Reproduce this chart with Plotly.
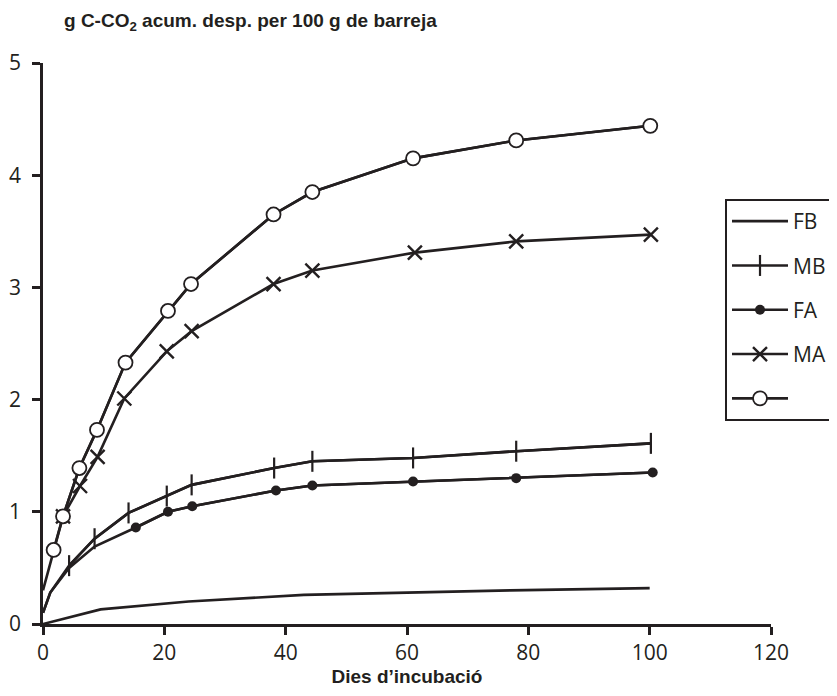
import plotly.graph_objects as go

INK = "#231f20"

# ---- data ----
fb_days = [0, 9.5, 24, 43, 60, 77, 100]
fb_vals = [0.0, 0.13, 0.20, 0.26, 0.28, 0.30, 0.32]

mb_days = [0, 1.2, 4.3, 8.5, 14.1, 20.4, 24.5, 38.1, 44.4, 61, 78, 100.2]
mb_vals = [0.10, 0.28, 0.52, 0.76, 0.99, 1.14, 1.24, 1.39, 1.45, 1.48, 1.54, 1.61]
mb_first_marker = 2

fa_days = [0, 1.2, 4.3, 8.5, 15.3, 20.6, 24.6, 38.4, 44.4, 61, 78, 100.5]
fa_vals = [0.10, 0.28, 0.50, 0.69, 0.86, 1.00, 1.05, 1.19, 1.235, 1.27, 1.30, 1.35]
fa_first_marker = 4

ma_days = [3.3, 6.1, 9.0, 13.4, 20.4, 24.5, 38.0, 44.4, 61.3, 78, 100.2]
ma_vals = [0.96, 1.23, 1.49, 2.01, 2.43, 2.61, 3.03, 3.15, 3.31, 3.41, 3.47]

oc_days = [0, 1.75, 3.3, 6.0, 8.9, 13.6, 20.6, 24.4, 38.0, 44.4, 61, 78, 100.1]
oc_vals = [0.30, 0.66, 0.96, 1.39, 1.73, 2.33, 2.79, 3.03, 3.65, 3.85, 4.15, 4.31, 4.44]
oc_first_marker = 1

names = ["FB", "MB", "FA", "MA", " "]
x_ticks = [0, 20, 40, 60, 80, 100, 120]
y_ticks = [0, 1, 2, 3, 4, 5]

LW = 2.6
fig = go.Figure()

# FB plain line
fig.add_trace(go.Scatter(x=fb_days, y=fb_vals, mode="lines", name=names[0],
                         line=dict(color=INK, width=LW), legendgroup="g1"))

# MB: line + vertical tick markers
fig.add_trace(go.Scatter(x=mb_days, y=mb_vals, mode="lines", showlegend=False,
                         line=dict(color=INK, width=LW)))
fig.add_trace(go.Scatter(x=mb_days[mb_first_marker:], y=mb_vals[mb_first_marker:],
                         mode="lines+markers", name=names[1], legendgroup="g2",
                         line=dict(color=INK, width=LW),
                         marker=dict(symbol="line-ns", size=15, color=INK,
                                     line=dict(color=INK, width=2.2))))

# FA: line + filled circles
fig.add_trace(go.Scatter(x=fa_days, y=fa_vals, mode="lines", showlegend=False,
                         line=dict(color=INK, width=LW)))
fig.add_trace(go.Scatter(x=fa_days[fa_first_marker:], y=fa_vals[fa_first_marker:],
                         mode="lines+markers", name=names[2], legendgroup="g3",
                         line=dict(color=INK, width=LW),
                         marker=dict(symbol="circle", size=10, color=INK)))

# MA: line + x markers
fig.add_trace(go.Scatter(x=ma_days, y=ma_vals, mode="lines+markers", name=names[3],
                         legendgroup="g4",
                         line=dict(color=INK, width=LW),
                         marker=dict(symbol="x-thin", size=14, color=INK,
                                     line=dict(color=INK, width=2.4))))

# open circles
fig.add_trace(go.Scatter(x=oc_days, y=oc_vals, mode="lines", showlegend=False,
                         line=dict(color=INK, width=LW)))
fig.add_trace(go.Scatter(x=oc_days[oc_first_marker:], y=oc_vals[oc_first_marker:],
                         mode="lines+markers", name=names[4], legendgroup="g5",
                         line=dict(color=INK, width=LW),
                         marker=dict(symbol="circle", size=14, color="white",
                                     line=dict(color=INK, width=1.8))))

# page offset of the figure inside the browser window
OX, OY = 8, 8
W, H = 837 - OX, 696 - OY
L, T = 43 - OX, 63 - OY
R = W - (771 - OX)
B = H - (624 - OY)
pw, ph = W - L - R, H - T - B


def px_x(xp):
    return (xp - OX - L) / pw


def px_y(yp):
    return (H - B - (yp - OY)) / ph


fig.update_layout(
    width=W, height=H,
    margin=dict(l=L, r=R, t=T, b=B, autoexpand=False),
    paper_bgcolor="white", plot_bgcolor="white",
    font=dict(family="Open Sans, Liberation Sans, sans-serif", color=INK, size=18),
    showlegend=True,
    legend=dict(
        x=px_x(725), y=px_y(199), xanchor="left", yanchor="top",
        bordercolor=INK, borderwidth=2, bgcolor="white",
        font=dict(family="Open Sans, sans-serif", size=21, color=INK),
        traceorder="grouped", tracegroupgap=14, itemwidth=56,
    ),
    xaxis=dict(
        range=[0, 120], tickvals=x_ticks, ticks="outside", ticklen=8, tickwidth=2.5,
        tickcolor=INK, showline=True, linecolor=INK, linewidth=2.5,
        showgrid=False, zeroline=False, automargin=False, ticklabelstandoff=0,
        tickfont=dict(family="Open Sans, sans-serif", size=21, color=INK),
        title=dict(text="Dies d’incubació", standoff=2,
                   font=dict(family="Liberation Sans Narrow, Arial Narrow, Liberation Sans, sans-serif",
                             size=19, color=INK, weight="bold")),
    ),
    yaxis=dict(
        range=[0, 5], tickvals=y_ticks, ticks="outside", ticklen=8, tickwidth=2.5,
        tickcolor=INK, showline=True, linecolor=INK, linewidth=2.5,
        showgrid=False, zeroline=False, automargin=False, ticklabelstandoff=7,
        tickfont=dict(family="Open Sans, sans-serif", size=21, color=INK),
    ),
    annotations=[dict(
        text="g C-CO<sub>2</sub> acum. desp. per 100 g de barreja",
        xref="paper", yref="paper", x=px_x(62), y=px_y(22),
        xanchor="left", yanchor="middle", showarrow=False,
        font=dict(family="Liberation Sans Narrow, Arial Narrow, Liberation Sans, sans-serif",
                  size=19, color=INK, weight="bold"),
    )],
)

fig.write_html("out.html")
